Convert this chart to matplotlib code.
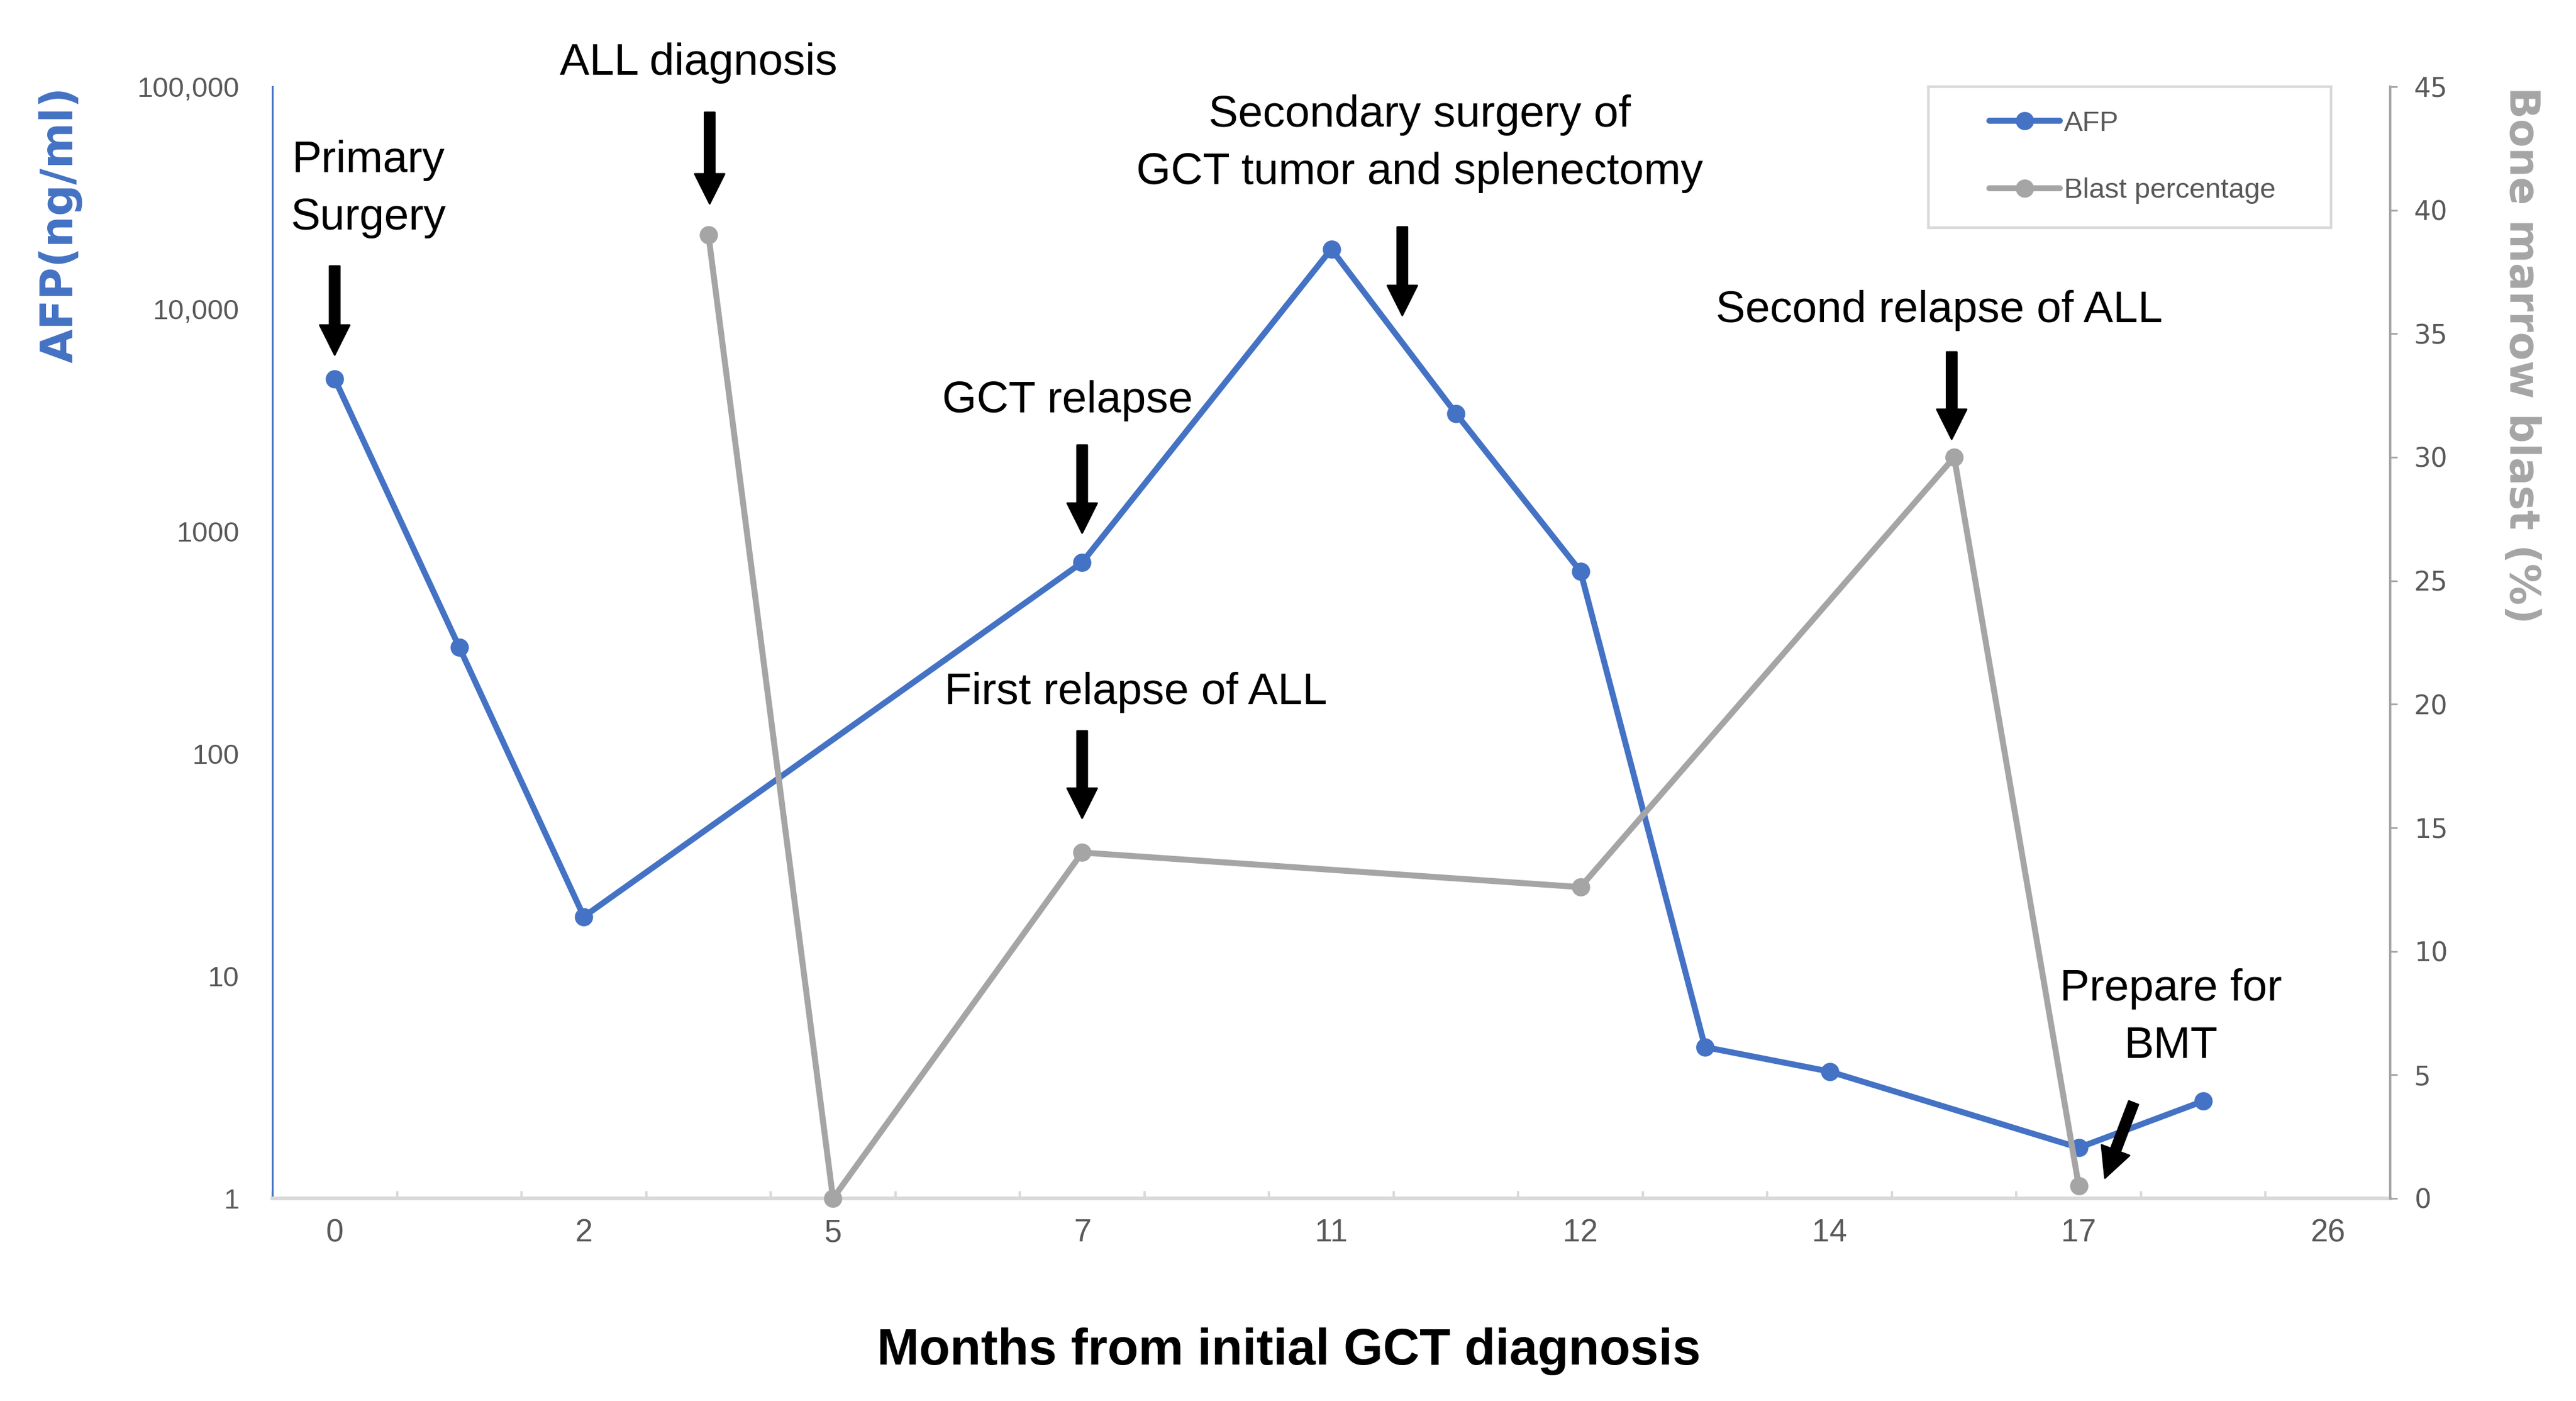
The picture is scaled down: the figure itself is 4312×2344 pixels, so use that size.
import matplotlib
matplotlib.use("Agg")
import numpy as np
import matplotlib.pyplot as plt
from matplotlib import font_manager as fm
from matplotlib.patches import Rectangle
from matplotlib.ticker import FixedLocator, NullLocator

# ---------------- data ----------------
n_categories = 17
tick_positions = [0, 2, 4, 6, 8, 10, 12, 14, 16]
tick_labels = ["0", "2", "5", "7", "11", "12", "14", "17", "26"]

afp_x = [0, 1, 2, 6, 8, 9, 10, 11, 12, 14, 15]
afp_values = [4850, 301, 18.5, 725, 18600, 3390, 661, 4.79, 3.72, 1.69, 2.74]

blast_x = [3, 4, 6, 10, 13, 14]
blast_values = [39, 0, 14, 12.6, 30, 0.5]

afp_ticks = [1, 10, 100, 1000, 10000, 100000]
afp_tick_labels = ["1", "10", "100", "1000", "10,000", "100,000"]
blast_ticks = [0, 5, 10, 15, 20, 25, 30, 35, 40, 45]

series_names = ["AFP", "Blast percentage"]

# label, text x, baseline of last line (right-axis units), arrow tail, arrow tip
events = [
    ("Primary\nSurgery", 0.27, 39.22, (0.0, 37.74), (0.0, 34.14)),
    ("ALL diagnosis", 2.92, 45.49, (3.01, 43.96), (3.01, 40.26)),
    ("GCT relapse", 5.88, 31.82, (6.0, 30.49), (6.0, 26.93)),
    ("First relapse of ALL", 6.43, 20.01, (6.0, 18.92), (6.0, 15.39)),
    ("Secondary surgery of\nGCT tumor and splenectomy", 8.71, 41.06, (8.57, 39.32), (8.57, 35.74)),
    ("Second relapse of ALL", 12.88, 35.47, (12.98, 34.26), (12.98, 30.73)),
    ("Prepare for\nBMT", 14.74, 5.69, (14.44, 3.87), (14.21, 0.82)),
]

# ---------------- style ----------------
BLUE = "#4472C4"
GRAY = "#A5A5A5"
LIGHT = "#D9D9D9"
TICKC = "#595959"

available = {f.name for f in fm.fontManager.ttflist}
MAIN = "Liberation Sans" if "Liberation Sans" in available else "DejaVu Sans"
NARROW = "Liberation Sans Narrow" if "Liberation Sans Narrow" in available else MAIN
narrow_size = 19.5 if NARROW != MAIN else 17

W, H = 4312, 2344
fig = plt.figure(figsize=(W / 200, H / 200), dpi=200)
ax_left, ax_right_px, ax_top, ax_bot = 456, 4001, 145, 2005
ax = fig.add_axes([ax_left / W, (H - ax_bot) / H, (ax_right_px - ax_left) / W, (ax_bot - ax_top) / H])
ax2 = ax.twinx()

l1, = ax.plot(afp_x, afp_values, color=BLUE, lw=3.6, marker="o", ms=10,
              solid_capstyle="round", solid_joinstyle="round", clip_on=False, zorder=3)
l2, = ax2.plot(blast_x, blast_values, color=GRAY, lw=3.6, marker="o", ms=10,
               solid_capstyle="round", solid_joinstyle="round", clip_on=False, zorder=3)

# left axis
ax.set_yscale("log")
ax.set_ylim(1, 100000)
ax.yaxis.set_major_locator(FixedLocator(afp_ticks))
ax.yaxis.set_minor_locator(NullLocator())
ax.set_yticklabels(afp_tick_labels, fontfamily=NARROW, fontsize=narrow_size, color=TICKC)
ax.tick_params(axis="y", length=0, pad=20)

# x axis
ax.set_xlim(-0.5, n_categories - 0.5)
ax.set_xticks(tick_positions)
ax.set_xticklabels(tick_labels, fontfamily=MAIN, fontsize=19, color=TICKC)
ax.xaxis.set_minor_locator(FixedLocator(np.arange(-0.5, n_categories, 1.0)))
ax.tick_params(axis="x", which="major", length=0, pad=12)
ax.tick_params(axis="x", which="minor", direction="in", length=4.3, width=1.4, color=LIGHT)

for s in ["top", "right"]:
    ax.spines[s].set_visible(False)
ax.spines["left"].set_color(BLUE)
ax.spines["left"].set_linewidth(1.1)
ax.spines["bottom"].set_color(LIGHT)
ax.spines["bottom"].set_linewidth(2.2)

# right axis
ax2.set_ylim(0, 45)
ax2.set_yticks(blast_ticks)
ax2.set_yticklabels([str(t) for t in blast_ticks], fontfamily="DejaVu Sans", fontsize=16, color=TICKC)
ax2.tick_params(axis="y", direction="out", length=4.3, width=1.0, color=GRAY, pad=10)
for s in ["top", "left", "bottom"]:
    ax2.spines[s].set_visible(False)
ax2.spines["right"].set_color(GRAY)
ax2.spines["right"].set_linewidth(1.4)

# axis titles
fig.text(101 / W, (H - ax_top) / H, "AFP(ng/ml)", rotation=90, ha="center", va="top",
         fontfamily="DejaVu Sans", fontweight="bold", fontsize=26.5, color=BLUE)
fig.text(4221 / W, (H - ax_top) / H, "Bone marrow blast (%)", rotation=270, ha="center", va="top",
         fontfamily="DejaVu Sans", fontweight="bold", fontsize=25, color=GRAY)
fig.text(2157 / W, (H - 2283) / H, "Months from initial GCT diagnosis", ha="center", va="baseline",
         fontfamily=MAIN, fontweight="bold", fontsize=30.5, color="black")

# annotations
for label, tx, ty, tail, tip in events:
    ax2.text(tx, ty, label, ha="center", va="baseline", multialignment="center",
             fontfamily=MAIN, fontsize=26.8, color="black", linespacing=1.5,
             clip_on=False, zorder=10)
    ax2.annotate("", xy=tip, xytext=tail, xycoords="data", textcoords="data",
                 arrowprops=dict(arrowstyle="simple,head_length=0.5,head_width=0.5,tail_width=0.17",
                                 color="black", shrinkA=0, shrinkB=0, mutation_scale=36),
                 annotation_clip=False, zorder=10)

# legend
fig.legend(handles=[l1, l2], labels=series_names, loc="center left",
           bbox_to_anchor=(3330 / W, (H - 263) / H), bbox_transform=fig.transFigure,
           frameon=False, prop={"family": MAIN, "size": 17}, labelcolor=TICKC,
           handlelength=2.49, handletextpad=0.15, labelspacing=1.45,
           borderpad=0, borderaxespad=0, numpoints=1)
fig.add_artist(Rectangle((3228 / W, (H - 381) / H), 674 / W, 236 / H,
                         transform=fig.transFigure, fill=False, edgecolor=LIGHT, lw=1.6))

fig.savefig("out.png", dpi=200)
